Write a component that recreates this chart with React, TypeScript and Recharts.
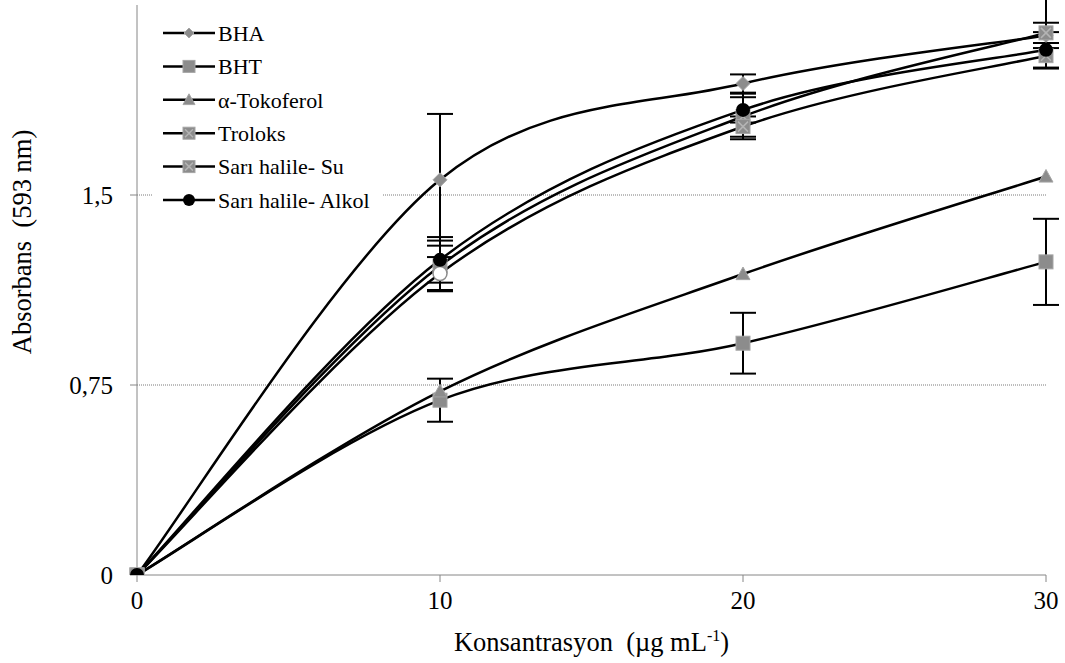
import React from "react"
import { LineChart, Line, XAxis, YAxis, CartesianGrid, ErrorBar, Legend, Label } from "recharts"

// concentrations (µg/mL)
const conc = [0, 10, 20, 30]

// absorbance at 593 nm
const bha = [0, 1.56, 1.94, 2.13]
const bht = [0, 0.69, 0.915, 1.236]
const tokoferol = [0, 0.725, 1.188, 1.573]
const troloks = [0, 1.22, 1.81, 2.14]
const su = [0, 1.19, 1.77, 2.05]
const alkol = [0, 1.244, 1.836, 2.073]

// standard deviations
const bhaErr = [null, 0.26, 0.036, 0.05]
const bhtErr = [null, 0.085, 0.12, 0.17]
const troloksErr = [null, 0.1, 0.09, 0.14]
const suErr = [null, 0.065, 0.04, 0.05]
const alkolErr = [null, 0.09, 0.05, 0.07]

const yTicks = [0, 0.75, 1.5]
const gridLines = [0.75, 1.5]
const xTicks = [0, 10, 20, 30]

const FONT = "Liberation Serif, serif"

type Shape = "diamond" | "square" | "triangle" | "cross" | "circle"

const SERIES: { key: string; name: string; shape: Shape; err?: string }[] = [
  { key: "bha", name: "BHA", shape: "diamond", err: "bhaErr" },
  { key: "bht", name: "BHT", shape: "square", err: "bhtErr" },
  { key: "tokoferol", name: "α-Tokoferol", shape: "triangle" },
  { key: "troloks", name: "Troloks", shape: "cross", err: "troloksErr" },
  { key: "su", name: "Sarı halile- Su", shape: "cross", err: "suErr" },
  { key: "alkol", name: "Sarı halile- Alkol", shape: "circle", err: "alkolErr" },
]

const data = conc.map((c, i) => ({
  c,
  bha: bha[i], bhaErr: bhaErr[i],
  bht: bht[i], bhtErr: bhtErr[i],
  tokoferol: tokoferol[i],
  troloks: troloks[i], troloksErr: troloksErr[i],
  su: su[i], suErr: suErr[i],
  alkol: alkol[i], alkolErr: alkolErr[i],
}))

// Excel-style smoothed line (Catmull-Rom as cubic bezier)
const excelCurve: any = (context: any) => {
  let pts: number[][] = []
  return {
    areaStart() {},
    areaEnd() {},
    lineStart() { pts = [] },
    point(x: number, y: number) { pts.push([+x, +y]) },
    lineEnd() {
      if (!pts.length) return
      context.moveTo(pts[0][0], pts[0][1])
      for (let i = 0; i < pts.length - 1; i++) {
        const p0 = pts[i - 1] ?? pts[i]
        const p1 = pts[i]
        const p2 = pts[i + 1]
        const p3 = pts[i + 2] ?? p2
        context.bezierCurveTo(
          p1[0] + (p2[0] - p0[0]) / 6, p1[1] + (p2[1] - p0[1]) / 6,
          p2[0] - (p3[0] - p1[0]) / 6, p2[1] - (p3[1] - p1[1]) / 6,
          p2[0], p2[1]
        )
      }
    },
  }
}

function Marker({ shape, cx, cy, s = 7, open = false }: { shape: Shape; cx: number; cy: number; s?: number; open?: boolean }) {
  const fill = "#8c8c8c"
  const stroke = "#a6a6a6"
  if (open) return <circle cx={cx} cy={cy} r={s} fill="#fff" stroke="#8c8c8c" strokeWidth={1.5} />
  switch (shape) {
    case "diamond":
      return <polygon points={`${cx},${cy - s} ${cx + s},${cy} ${cx},${cy + s} ${cx - s},${cy}`} fill={fill} stroke={stroke} strokeWidth={1} />
    case "square":
      return <rect x={cx - s} y={cy - s} width={2 * s} height={2 * s} fill={fill} stroke={stroke} strokeWidth={1} />
    case "triangle":
      return <polygon points={`${cx},${cy - s} ${cx + s},${cy + s * 0.8} ${cx - s},${cy + s * 0.8}`} fill={fill} stroke={stroke} strokeWidth={1} />
    case "cross":
      return (
        <g>
          <rect x={cx - s} y={cy - s} width={2 * s} height={2 * s} fill={fill} stroke={stroke} strokeWidth={1} />
          <line x1={cx - s + 2} y1={cy - s + 2} x2={cx + s - 2} y2={cy + s - 2} stroke="#b4b4b4" strokeWidth={1.5} />
          <line x1={cx - s + 2} y1={cy + s - 2} x2={cx + s - 2} y2={cy - s + 2} stroke="#b4b4b4" strokeWidth={1.5} />
        </g>
      )
    default:
      return <circle cx={cx} cy={cy} r={s} fill="#000" />
  }
}

function LegendBox() {
  return (
    <div style={{ background: "#fff", width: 231, height: 205 }}>
      <svg width={231} height={205}>
        {SERIES.map((s, i) => {
          const y = 19 + i * 33.4
          return (
            <g key={s.key}>
              <line x1={11} x2={63} y1={y} y2={y} stroke="#000" strokeWidth={2.5} />
              <Marker shape={s.shape} cx={37} cy={y} s={s.shape === "diamond" ? 5 : 6} />
              <text x={66} y={y} dy="0.35em" style={{ fontFamily: FONT, fontSize: 22 }} fill="#000">{s.name}</text>
            </g>
          )
        })}
      </svg>
    </div>
  )
}

const fmt = (v: number) => String(v).replace(".", ",")

const tickStyle = { fontFamily: FONT, fontSize: 25, fill: "#000", style: { fontFamily: FONT } }

export default function App() {
  return (
    <div style={{ position: "absolute", left: 0, top: 0, width: 1065, height: 663, background: "#fff", fontFamily: FONT }}>
      <LineChart width={1065} height={663} data={data} margin={{ top: 5, right: 19, left: 0, bottom: 0 }} style={{ fontFamily: FONT }}>
        <CartesianGrid vertical={false} stroke="#7a7a7a" strokeDasharray="1 1" horizontalValues={gridLines} />
        <XAxis
          dataKey="c"
          type="number"
          domain={[0, 30]}
          ticks={xTicks}
          height={88}
          stroke="#868686"
          tickSize={7}
          tickMargin={9}
          tick={tickStyle}
        >
          <Label
            content={({ viewBox }: any) => (
              <text
                x={viewBox.x + viewBox.width / 2}
                y={viewBox.y + 67}
                dy="0.35em"
                textAnchor="middle"
                fill="#000"
                style={{ whiteSpace: "pre", fontFamily: FONT, fontSize: 26.5 }}
              >
                Konsantrasyon  (µg mL<tspan dy={-10} style={{ fontSize: 16 }}>-1</tspan><tspan dy={10}>)</tspan>
              </text>
            )}
          />
        </XAxis>
        <YAxis
          type="number"
          domain={[0, 2.25]}
          ticks={yTicks}
          allowDataOverflow
          width={137}
          stroke="#868686"
          tickSize={7}
          tickMargin={17}
          tickFormatter={fmt}
          tick={tickStyle}
        >
          <Label
            content={({ viewBox }: any) => {
              const x = viewBox.x + 22
              const y = viewBox.y + 237
              return (
                <text
                  x={x}
                  y={y}
                  dy="0.35em"
                  textAnchor="middle"
                  transform={`rotate(-90 ${x} ${y})`}
                  fill="#000"
                  style={{ whiteSpace: "pre", fontFamily: FONT, fontSize: 26.5 }}
                >
                  Absorbans  (593 nm)
                </text>
              )
            }}
          />
        </YAxis>
        <Legend
          layout="vertical"
          align="center"
          verticalAlign="middle"
          wrapperStyle={{ left: 152, top: 14, width: 231, height: 205 }}
          content={() => <LegendBox />}
        />
        {SERIES.map((s) => (
          <Line
            key={s.key}
            dataKey={s.key}
            name={s.name}
            type={excelCurve}
            stroke="#000"
            strokeWidth={2.5}
            isAnimationActive={false}
            activeDot={false}
            dot={(p: any) => (
              <Marker
                key={`${s.key}-${p.index}`}
                shape={s.shape}
                cx={p.cx}
                cy={p.cy}
                open={s.key === "su" && p.index === 1}
              />
            )}
          >
            {s.err && <ErrorBar dataKey={s.err} width={13} stroke="#000" strokeWidth={2} direction="y" />}
          </Line>
        ))}
      </LineChart>
    </div>
  )
}
